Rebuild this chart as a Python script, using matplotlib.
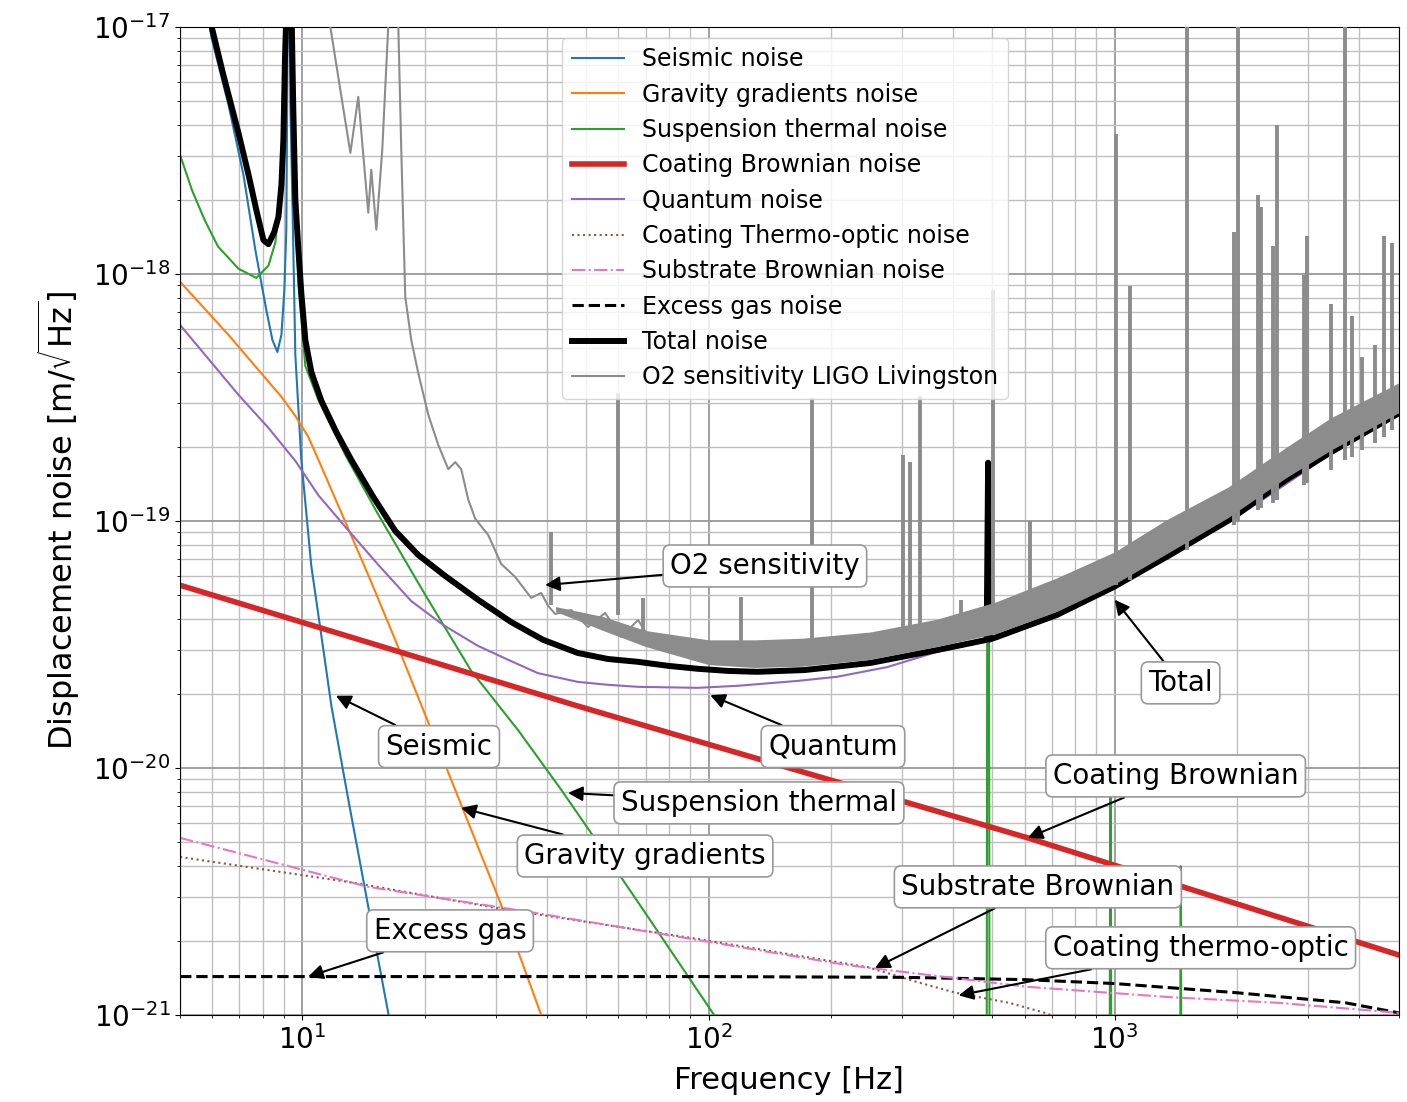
import matplotlib.pyplot as plt

# ---- noise budget curves (frequency in Hz, noise in m/sqrt(Hz)) ----
seis_f = [5.80, 5.98, 6.58, 7.16, 7.66, 8.15, 8.44, 8.68, 8.88, 9.03, 9.13, 9.26, 9.34, 9.45,
          9.61, 9.94, 10.52, 11.14, 11.79, 12.98, 14.53, 16.27, 16.55]
seis_n = [1.2e-17, 9.0e-18, 4.83e-18, 2.52e-18, 1.25e-18, 7.15e-19, 5.40e-19, 4.83e-19, 5.66e-19,
          8.61e-19, 1.51e-18, 5e-17, 5e-18, 1.99e-18, 4.70e-19, 1.77e-19, 6.57e-20, 3.42e-20,
          1.78e-20, 7.42e-21, 2.74e-21, 1.02e-21, 8.3e-22]

grav_f = [5.0, 6.58, 8.88, 9.61, 10.34, 10.95, 12.76, 14.70, 16.93, 20.07, 23.79, 30.87, 38.73, 40.06]
grav_n = [9.29e-19, 5.66e-19, 3.18e-19, 2.66e-19, 2.19e-19, 1.77e-19, 9.91e-20, 5.77e-20, 3.30e-20,
          1.64e-20, 8.15e-21, 2.79e-21, 1.0e-21, 8.7e-22]

susp_f = [5.0, 5.35, 5.75, 6.20, 6.96, 7.70, 8.25, 8.58, 8.88, 9.08, 9.24, 9.40, 9.56, 9.78,
          10.17, 10.95, 12.76, 15.38, 20.07, 26.05, 34.0, 43.4, 51.4, 71.0, 103.2, 111.7,
          484, 486, 490, 492, 972, 975, 978, 981, 1450, 1453, 1456, 1459]
susp_n = [3.03e-18, 2.18e-18, 1.65e-18, 1.29e-18, 1.05e-18, 9.63e-19, 1.08e-18, 1.34e-18,
          2.40e-18, 5.06e-18, 3e-17, 9e-18, 2.9e-18, 9.0e-19, 4.24e-19, 3.09e-19, 1.85e-19,
          1.06e-19, 5.02e-20, 2.47e-20, 1.42e-20, 8.15e-21, 5.45e-21, 2.49e-21, 1.0e-21, 7.9e-22,
          5e-22, 1.7e-19, 1.6e-19, 5e-22, 5e-22, 8e-21, 7.5e-21, 5e-22, 5e-22, 4e-21, 3.8e-21, 5e-22]

cb_f = [5, 47.7, 611, 5000]
cb_n = [5.49e-20, 1.78e-20, 5.21e-21, 1.75e-21]

quant_f = [5.0, 6.96, 8.25, 9.61, 10.95, 12.76, 15.38, 18.53, 22.23, 27.06, 32.12, 38.0, 47.66,
           56.6, 66.9, 94.0, 117.8, 165.4, 207.5, 275.4, 365, 513, 994, 1917, 3375, 4932]
quant_n = [6.21e-19, 3.24e-19, 2.38e-19, 1.75e-19, 1.27e-19, 9.46e-20, 6.64e-20, 4.74e-20,
           3.79e-20, 3.12e-20, 2.74e-20, 2.42e-20, 2.23e-20, 2.17e-20, 2.13e-20, 2.11e-20,
           2.15e-20, 2.25e-20, 2.34e-20, 2.56e-20, 2.95e-20, 3.33e-20, 5.31e-20, 9.91e-20,
           1.85e-19, 2.64e-19]

cto_f = [5, 13.5, 30.4, 94.2, 247, 331, 406, 549, 673, 811]
cto_n = [4.36e-21, 3.42e-21, 2.70e-21, 2.03e-21, 1.56e-21, 1.35e-21, 1.23e-21, 1.12e-21,
         1.02e-21, 9.1e-22]

sub_f = [5, 14.53, 37.4, 94.2, 220, 608, 1373, 2518, 5000]
sub_n = [5.21e-21, 3.30e-21, 2.59e-21, 2.01e-21, 1.59e-21, 1.30e-21, 1.18e-21, 1.12e-21, 1.02e-21]

gas_f = [5, 100, 300, 600, 1000, 2000, 3700, 5000]
gas_n = [1.43e-21, 1.43e-21, 1.42e-21, 1.39e-21, 1.34e-21, 1.23e-21, 1.12e-21, 1.02e-21]

total_f = [5.80, 5.98, 6.39, 6.96, 7.37, 7.70, 8.02, 8.25, 8.53, 8.73, 8.88, 8.98, 9.06, 9.11,
           9.26, 9.42, 9.50, 9.61, 9.78, 9.94, 10.17, 10.52, 11.14, 12.12, 13.19, 14.95, 16.93,
           19.29, 22.46, 27.10, 32.63, 39.16, 47.66, 56.59, 66.9, 79.52, 94.0, 111.7, 131.9,
           172.2, 250, 365, 484, 488, 492, 513, 720, 994, 1342, 1917, 2647, 3375, 4932]
total_n = [1.3e-17, 1.0e-17, 6.39e-18, 3.72e-18, 2.52e-18, 1.82e-18, 1.37e-18, 1.32e-18,
           1.48e-18, 1.70e-18, 2.29e-18, 3.49e-18, 7.35e-18, 1.0e-17, 5e-17, 1.0e-17, 4.61e-18,
           1.99e-18, 1.25e-18, 8.38e-19, 5.40e-19, 4.01e-19, 3.06e-19, 2.29e-19, 1.77e-19,
           1.25e-19, 9.11e-20, 7.28e-20, 5.99e-20, 4.79e-20, 3.90e-20, 3.30e-20, 2.92e-20,
           2.76e-20, 2.69e-20, 2.59e-20, 2.52e-20, 2.47e-20, 2.45e-20, 2.49e-20, 2.66e-20,
           3.00e-20, 3.30e-20, 1.72e-19, 3.31e-20, 3.39e-20, 4.16e-20, 5.40e-20, 7.15e-20,
           1.01e-19, 1.47e-19, 1.88e-19, 2.69e-19]

# ---- O2 sensitivity, LIGO Livingston ----
o2_f = [11.5, 11.72, 12.40, 13.13, 13.73, 14.53, 14.78, 15.21, 15.73, 16.27, 16.74, 17.23, 17.52,
        17.92, 18.54, 19.29, 20.42, 21.61, 22.87, 23.79, 24.61, 25.61, 26.65, 28.68, 30.87,
        33.42, 36.60, 38.73, 40.29, 41.92, 45.88, 50.52, 55.64, 60.92, 67.07, 73.86, 80.86,
        98.0, 118.2, 142.5, 172.8, 208.3, 251.0, 304.4, 366.9, 442.3, 536.3, 646.5, 810.9,
        1017, 1276, 1600, 2008, 2518, 3158, 3961, 4968]
o2_n = [1.3e-17, 1e-17, 5.56e-18, 3.09e-18, 5.21e-18, 1.77e-18, 2.64e-18, 1.51e-18, 3.18e-18,
        1e-17, 3e-17, 1e-17, 3.18e-18, 8.07e-19, 5.40e-19, 3.97e-19, 2.69e-19, 2.03e-19,
        1.62e-19, 1.73e-19, 1.62e-19, 1.22e-19, 1.02e-19, 8.77e-20, 6.70e-20, 5.93e-20,
        4.88e-20, 5.11e-20, 4.53e-20, 4.20e-20, 4.36e-20, 3.72e-20, 4.24e-20, 3.39e-20,
        3.97e-20, 3.09e-20, 3.21e-20, 3.00e-20, 2.92e-20, 3.00e-20, 2.95e-20, 3.09e-20,
        3.30e-20, 3.52e-20, 3.86e-20, 4.24e-20, 4.66e-20, 5.11e-20, 5.88e-20, 6.82e-20,
        8.15e-20, 9.81e-20, 1.19e-19, 1.49e-19, 1.85e-19, 2.38e-19, 3.09e-19]

# spread of the noisy trace (lower / upper edge)
band_f = [42, 55, 70, 100, 130, 170, 250, 365, 510, 720, 1000, 1340, 1900, 2650, 3400, 5000]
band_lo = [4.3e-20, 3.6e-20, 3.1e-20, 2.62e-20, 2.55e-20, 2.58e-20, 2.75e-20, 3.1e-20, 3.5e-20,
           4.3e-20, 5.55e-20, 7.35e-20, 1.03e-19, 1.5e-19, 1.93e-19, 2.74e-19]
band_hi = [4.5e-20, 4.1e-20, 3.6e-20, 3.3e-20, 3.3e-20, 3.35e-20, 3.55e-20, 4.0e-20, 4.7e-20,
           5.88e-20, 7.49e-20, 1.01e-19, 1.37e-19, 1.99e-19, 2.61e-19, 3.62e-19]

spk_f = [41, 60, 69, 120, 180, 302, 313, 331, 418, 501, 618, 1006, 1089, 1503, 1962, 2008,
         2248, 2287, 2448, 2503, 2917, 2967, 3418, 3701, 3850, 4075, 4386, 4616, 4830]
spk_lo = [4.57e-20, 4.16e-20, 3.30e-20, 2.87e-20, 3.0e-20, 3.45e-20, 3.45e-20, 3.62e-20,
          3.97e-20, 3.97e-20, 4.79e-20, 5.51e-20, 5.77e-20, 7.63e-20, 9.63e-20, 9.91e-20,
          1.11e-19, 1.13e-19, 1.18e-19, 1.22e-19, 1.40e-19, 1.43e-19, 1.61e-19, 1.77e-19,
          1.81e-19, 1.94e-19, 2.07e-19, 2.19e-19, 2.34e-19]
spk_hi = [9.02e-20, 3.3e-19, 4.88e-20, 4.9e-20, 3.15e-19, 1.85e-19, 1.73e-19, 3.2e-19, 4.79e-20,
          8.61e-19, 1.0e-19, 3.69e-18, 8.94e-19, 2e-17, 1.48e-18, 2e-17, 2.09e-18, 1.87e-18,
          1.30e-18, 4.01e-18, 9.9e-19, 1.43e-18, 7.56e-19, 2e-17, 6.76e-19, 4.61e-19, 5.16e-19,
          1.43e-18, 1.34e-18]

x_ticks = [10, 100, 1000]
y_ticks = [1e-21, 1e-20, 1e-19, 1e-18, 1e-17]

# label text, arrow tip (f, n), label centre (f, n)
notes = [
    ("O2 sensitivity", (39.6, 5.5e-20), (137.7, 6.57e-20)),
    ("Total", (1000, 4.8e-20), (1453, 2.21e-20)),
    ("Quantum", (101, 1.97e-20), (202.5, 1.22e-20)),
    ("Seismic", (12.1, 1.96e-20), (21.7, 1.22e-20)),
    ("Suspension thermal", (45.1, 7.92e-21), (133.1, 7.22e-21)),
    ("Gravity gradients", (24.6, 6.89e-21), (69.8, 4.40e-21)),
    ("Excess gas", (10.34, 1.43e-21), (23.1, 2.19e-21)),
    ("Coating Brownian", (611, 5.21e-21), (1413, 9.28e-21)),
    ("Substrate Brownian", (257, 1.55e-21), (647, 3.30e-21)),
    ("Coating thermo-optic", (413, 1.2e-21), (1628, 1.87e-21)),
]

fig = plt.figure(figsize=(14.07, 11.02), dpi=100)
ax = fig.add_axes([0.128, 0.079, 0.866, 0.8966])
ax.set_xscale('log')
ax.set_yscale('log')

ax.plot(seis_f, seis_n, color='C0', lw=1.5, label='Seismic noise', zorder=2)
ax.plot(grav_f, grav_n, color='C1', lw=1.5, label='Gravity gradients noise', zorder=2)
ax.plot(susp_f, susp_n, color='C2', lw=1.5, label='Suspension thermal noise', zorder=2)
ax.plot(cb_f, cb_n, color='C3', lw=4, label='Coating Brownian noise', zorder=2)
ax.plot(quant_f, quant_n, color='C4', lw=1.5, label='Quantum noise', zorder=2)
ax.plot(cto_f, cto_n, color='C5', lw=1.5, ls=':', label='Coating Thermo-optic noise', zorder=2)
ax.plot(sub_f, sub_n, color='C6', lw=1.5, ls='-.', label='Substrate Brownian noise', zorder=2.1)
ax.plot(gas_f, gas_n, color='k', lw=2.2, ls='--', label='Excess gas noise', zorder=2)
ax.plot(total_f, total_n, color='k', lw=4.3, label='Total noise', zorder=3)
ax.plot(o2_f, o2_n, color='0.55', lw=1.5, label='O2 sensitivity LIGO Livingston', zorder=4)
ax.fill_between(band_f, band_lo, band_hi, color='0.55', lw=0, zorder=4)
ax.vlines(spk_f, spk_lo, spk_hi, color='0.55', lw=2.8, zorder=4)

for text, tip, pos in notes:
    ax.annotate(text, xy=tip, xytext=pos, ha='center', va='center', fontsize=20, zorder=6,
                bbox=dict(boxstyle='round,pad=0.25', fc='white', ec='0.6', lw=1.2),
                arrowprops=dict(arrowstyle='-|>', color='k', lw=1.5, mutation_scale=22,
                                shrinkA=0, shrinkB=0))

ax.set_xlim(5, 5000)
ax.set_ylim(1e-21, 1e-17)
ax.set_xticks(x_ticks)
ax.set_yticks(y_ticks)
ax.set_axisbelow(True)
ax.grid(True, which='major', color='0.6', lw=1.3)
ax.grid(True, which='minor', color='0.75', lw=1.0)
ax.tick_params(labelsize=20)
ax.set_xlabel('Frequency [Hz]', fontsize=22, labelpad=8)
ax.set_ylabel(r'Displacement noise [m/$\sqrt{\mathrm{Hz}}$]', fontsize=23, labelpad=8)

leg = ax.legend(loc='upper left', bbox_to_anchor=(0.3136, 0.989), borderaxespad=0,
                fontsize=17, handlelength=2.2, labelspacing=0.48, framealpha=0.8)
leg.set_zorder(7)

fig.savefig('out.png', dpi=100)
